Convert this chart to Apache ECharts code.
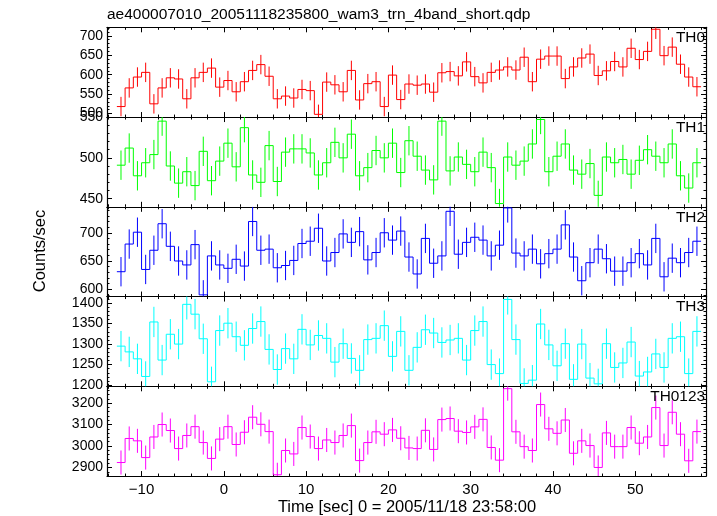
<!DOCTYPE html>
<html><head><meta charset="utf-8">
<script src="https://cdn.jsdelivr.net/npm/echarts@6/dist/echarts.min.js"></script>
<style>html,body{margin:0;padding:0;background:#fff}#c{width:717px;height:516px}</style>
</head><body><div id="c"></div>
<script>
// ---- data (1-s bins, bin centres in seconds) ----
const times = [-12.5,-11.5,-10.5,-9.5,-8.5,-7.5,-6.5,-5.5,-4.5,-3.5,-2.5,-1.5,-0.5,0.5,1.5,2.5,3.5,4.5,5.5,6.5,7.5,8.5,9.5,10.5,11.5,12.5,13.5,14.5,15.5,16.5,17.5,18.5,19.5,20.5,21.5,22.5,23.5,24.5,25.5,26.5,27.5,28.5,29.5,30.5,31.5,32.5,33.5,34.5,35.5,36.5,37.5,38.5,39.5,40.5,41.5,42.5,43.5,44.5,45.5,46.5,47.5,48.5,49.5,50.5,51.5,52.5,53.5,54.5,55.5,56.5,57.5];
const panelNames = ['TH0','TH1','TH2','TH3','TH0123'];
const th0 = [518,566,594,606,525,566,592,589,538,592, 606,617,568,585,556,582,611,626,596,538, 545,540,562,559,498,581,574,556,611,535, 577,582,518,599,536,576,573,576,555,605, 608,597,633,595,579,606,612,620,612,645, 582,640,648,648,590,620,643,653,598,610, 634,620,668,639,660,717,649,671,627,594,569];
const th1 = [491,512,478,494,504,545,490,469,483,466, 508,472,496,518,489,537,479,470,515,471, 507,511,511,506,479,494,519,500,529,478, 488,509,500,518,482,521,502,485,473,545, 484,501,492,483,507,488,444,501,491,496, 517,547,483,502,517,485,480,493,454,501, 494,498,480,497,510,502,494,517,478,463,494];
const th2 = [631,680,701,635,669,716,676,650,643,679, 590,659,643,637,653,641,720,669,671,638, 642,651,681,685,708,650,665,698,683,702, 652,665,700,687,703,657,627,690,646,659, 738,662,683,692,687,659,678,744,664,659, 671,645,663,671,714,657,615,647,671,654, 632,632,647,663,643,690,622,655,647,665,685];
const th3 = [1295,1281,1264,1221,1354,1261,1324,1300,1397,1373, 1313,1208,1333,1351,1318,1297,1338,1355,1287,1238, 1289,1264,1336,1298,1321,1314,1256,1301,1265,1236, 1311,1314,1345,1270,1331,1236,1292,1335,1327,1304, 1310,1314,1261,1333,1355,1250,1228,1409,1311,1204, 1212,1349,1298,1247,1301,1214,1300,1217,1203,1301, 1243,1254,1305,1222,1232,1276,1243,1314,1318,1228,1331];
const th0123 = [2923,3035,3024,2946,3042,3100,3072,2988,3049,3090, 3016,2942,3032,3090,3007,3064,3134,3101,3067,2866, 2979,2963,3086,3044,2988,3028,3016,3049,3095,2932, 3016,3066,3055,3075,3036,2991,2988,3073,2984,3123, 3128,3069,3063,3089,3124,2993,2934,3267,3066,2997, 2979,3193,3080,3059,3121,2966,3024,3002,2900,3061, 2997,2997,3086,3013,3042,3179,3002,3157,3055,2931,3067];
const errors = [25, 18, 26, 37, 56];           // 1-sigma error bar half-length per panel
const yMins = [491, 440, 587, 1197, 2860];
const yMaxs = [722, 550, 746, 1416, 3278];
const yMajorStep = [50, 50, 50, 50, 100];
const yMinorStep = [10, 10, 10, 10, 20];
const xMin = -14.2, xMax = 58.6;
const xMajorStep = 10, xMinorStep = 2;
const colors = ['#ff0000', '#00ff00', '#0000ff', '#00ffff', '#ff00ff'];
const title = 'ae400007010_20051118235800_wam3_trn_4band_short.qdp';
const xTitle = 'Time [sec] 0 = 2005/11/18 23:58:00';
const yTitle = 'Counts/sec';
const values = [th0, th1, th2, th3, th0123];

// ---- layout ----
const FONT = '"Liberation Sans", Arial, Helvetica, sans-serif';
const L = 107, R = 11, TOP = 27.3, H = 89.75;
const frame = {show: true, onZero: false, lineStyle: {color: '#000', width: 1.2}};
const noLine = {show: false, onZero: false};

function isMult(v, s) { const r = Math.abs(v / s - Math.round(v / s)); return r < 1e-6; }
function xFmt(v) { return isMult(v, xMajorStep) ? String(Math.round(v)).replace('-', '\u2212') : ''; }

const grid = [], xAxis = [], yAxis = [], series = [], graphic = [];

for (let i = 0; i < 5; i++) {
  const top = TOP + i * H;
  const gMaj = grid.length; grid.push({left: L, right: R, top: top, height: H});
  const gMin = grid.length; grid.push({left: L, right: R, top: top, height: H});
  const ySplitMaj = Math.round((yMaxs[i] - yMins[i]) / yMajorStep[i]);
  const ySplitMin = Math.round((yMaxs[i] - yMins[i]) / yMinorStep[i]);
  const xSplitMaj = Math.round((xMax - xMin) / xMajorStep);
  const xSplitMin = Math.round((xMax - xMin) / xMinorStep);

  const xi = xAxis.length;
  ['bottom', 'top'].forEach(pos => {
    xAxis.push({
      gridIndex: gMaj, type: 'value', position: pos, min: xMin, max: xMax, splitNumber: xSplitMaj,
      axisLine: frame, splitLine: {show: false},
      axisTick: {show: true, inside: true, length: 5, lineStyle: {color: '#000', width: 1}},
      axisLabel: {show: (i === 4 && pos === 'bottom'), formatter: xFmt, color: '#000', fontSize: 15, fontFamily: FONT, margin: 6}
    });
  });
  ['bottom', 'top'].forEach(pos => {
    xAxis.push({
      gridIndex: gMin, type: 'value', position: pos, min: xMin, max: xMax, splitNumber: xSplitMin,
      axisLine: noLine, splitLine: {show: false},
      axisTick: {show: true, inside: true, length: 2.5, lineStyle: {color: '#000', width: 1}},
      axisLabel: {show: false}
    });
  });
  const yi = yAxis.length;
  ['left', 'right'].forEach(pos => {
    yAxis.push({
      gridIndex: gMaj, type: 'value', position: pos, min: yMins[i], max: yMaxs[i], splitNumber: ySplitMaj,
      axisLine: frame, splitLine: {show: false},
      axisTick: {show: true, inside: true, length: 5, lineStyle: {color: '#000', width: 1}},
      axisLabel: {show: pos === 'left', color: '#000', fontSize: 14, fontFamily: FONT, margin: 4,
        formatter: (v) => isMult(v, yMajorStep[i]) ? String(Math.round(v)) : ''}
    });
  });
  ['left', 'right'].forEach(pos => {
    yAxis.push({
      gridIndex: gMin, type: 'value', position: pos, min: yMins[i], max: yMaxs[i], splitNumber: ySplitMin,
      axisLine: noLine, splitLine: {show: false},
      axisTick: {show: true, inside: true, length: 2.5, lineStyle: {color: '#000', width: 1}},
      axisLabel: {show: false}
    });
  });

  const vals = values[i];
  const data = vals.map((v, k) => [times[k], v, k > 0 ? vals[k - 1] : v, errors[i]]);
  const col = colors[i];
  series.push({
    type: 'custom', name: panelNames[i], xAxisIndex: xi, yAxisIndex: yi, clip: true,
    encode: {x: 0, y: 1},
    data: data, silent: true, animation: false,
    renderItem: function (params, api) {
      const x = api.value(0), v = api.value(1), p = api.value(2), e = api.value(3);
      const a = api.coord([x - 0.5, v]), b = api.coord([x + 0.5, v]);
      const pc = api.coord([x - 0.5, p]);
      const t = api.coord([x, v + e]), d = api.coord([x, v - e]);
      const st = {stroke: col, lineWidth: 1, fill: null};
      return {type: 'group', children: [
        {type: 'line', shape: {x1: a[0], y1: a[1], x2: b[0], y2: b[1]}, style: st},
        {type: 'line', shape: {x1: a[0], y1: pc[1], x2: a[0], y2: a[1]}, style: st},
        {type: 'line', shape: {x1: t[0], y1: t[1], x2: d[0], y2: d[1]}, style: st}
      ]};
    }
  });

  graphic.push({type: 'text', right: 12, top: top + 3,
    style: {text: panelNames[i], fill: '#000', font: '15.4px ' + FONT}, z: 100});
}

graphic.push({type: 'text', x: L, y: 14.5, style: {text: title, fill: '#000', font: '15.5px ' + FONT, verticalAlign: 'middle'}});
graphic.push({type: 'text', x: 407, y: 507, style: {text: xTitle, fill: '#000', font: '16.5px ' + FONT, align: 'center', verticalAlign: 'middle'}});
graphic.push({type: 'text', x: 40, y: 251, rotation: Math.PI / 2, style: {text: yTitle, fill: '#000', font: '16.5px ' + FONT, align: 'center', verticalAlign: 'middle'}});

const chart = echarts.init(document.getElementById('c'), null, {renderer: 'canvas'});
chart.setOption({animation: false, backgroundColor: '#fff', grid, xAxis, yAxis, series, graphic});
</script>
</body></html>
